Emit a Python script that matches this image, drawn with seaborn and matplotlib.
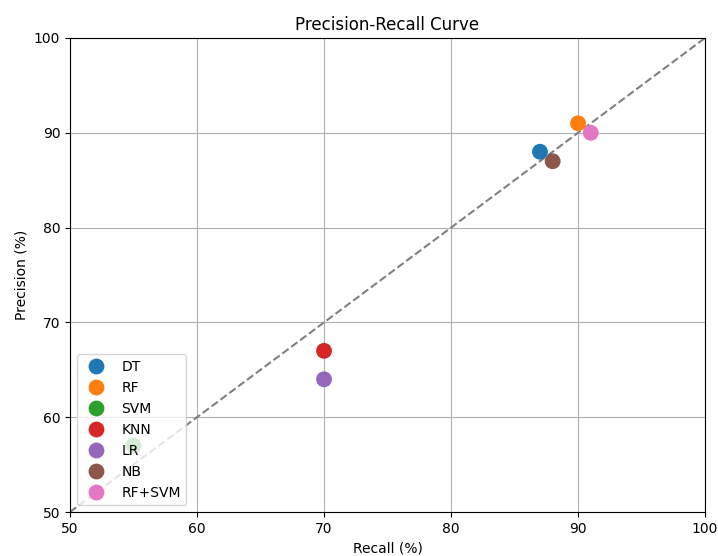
import matplotlib
matplotlib.use("Agg")
import matplotlib.pyplot as plt
import seaborn as sns
import pandas as pd

models = ["DT", "RF", "SVM", "KNN", "LR", "NB", "RF+SVM"]
recall = [87, 90, 55, 70, 70, 88, 91]
precision = [88, 91, 57, 67, 64, 87, 90]

df = pd.DataFrame({"Model": models, "Recall": recall, "Precision": precision})

fig = plt.figure(figsize=(7.18, 5.56), dpi=100)
ax = fig.add_axes([0.0975, 0.0791, 0.8845, 0.8526])
ax.plot([50, 100], [50, 100], linestyle="--", color="gray", zorder=2)
sns.scatterplot(data=df, x="Recall", y="Precision", hue="Model", palette="tab10",
                s=130, edgecolor="none", ax=ax, zorder=3)
ax.set_xlim(50, 100)
ax.set_ylim(50, 100)
ax.set_xticks([50, 60, 70, 80, 90, 100])
ax.set_yticks([50, 60, 70, 80, 90, 100])
ax.grid(True, zorder=0)
ax.set_axisbelow(True)
ax.set_xlabel("Recall (%)")
ax.set_ylabel("Precision (%)")
ax.set_title("Precision-Recall Curve")
ax.legend(loc="lower left", markerscale=1.0)
fig.savefig("out.png", dpi=100)
